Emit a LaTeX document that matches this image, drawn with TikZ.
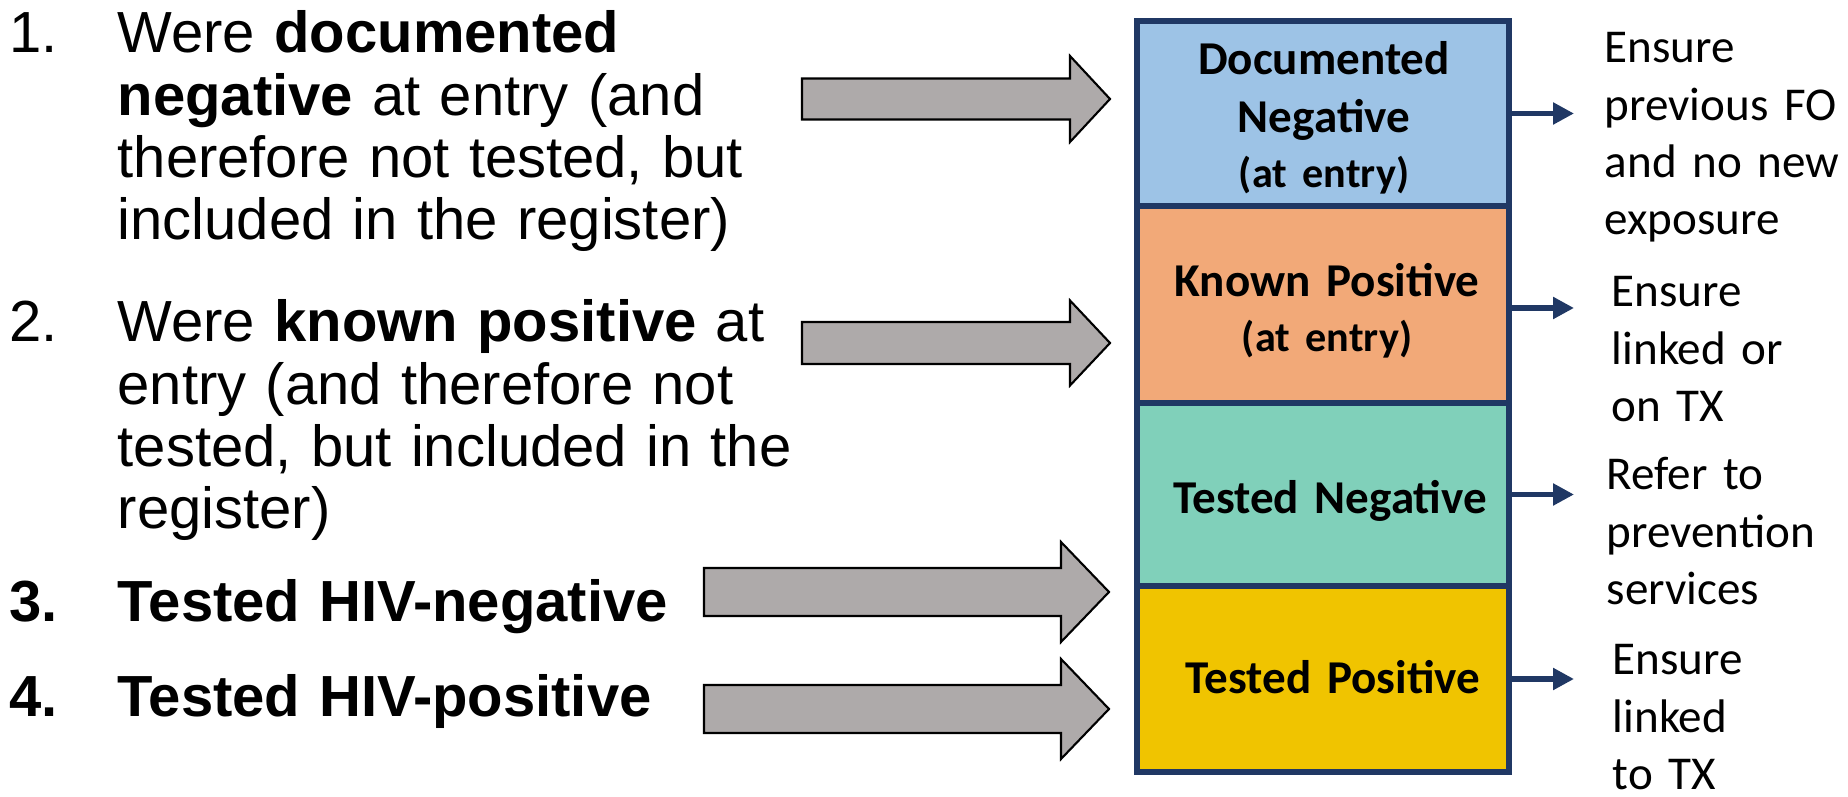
\documentclass[tikz,border=0pt]{standalone}
\usepackage{fontspec}
\setmainfont{Liberation Sans}
\newfontfamily\carlito{Carlito}
\usepackage{tikz}
\usetikzlibrary{positioning, arrows.meta}
\definecolor{marcoNavy}{HTML}{203864}
\definecolor{docNeg}{HTML}{9DC3E6}
\definecolor{knownPos}{HTML}{F2A978}
\definecolor{testNeg}{HTML}{80D0BA}
\definecolor{testPos}{HTML}{F0C400}
\definecolor{flechaGris}{HTML}{AEAAAA}

\begin{document}
\begin{tikzpicture}[
  >={Triangle[length=2.1mm, width=2.1mm]},
  bigarr/.style={fill=flechaGris, draw=black, line width=0.6pt, line join=miter},
  smallarr/.style={->, draw=marcoNavy, line width=1.6pt},
  cell/.style={draw=marcoNavy, line width=1.5pt, minimum width=3.72cm, inner sep=0pt, outer sep=0pt},
  celltxt/.style={anchor=base, inner sep=0pt, text width=3.6cm, align=center,
    font=\carlito\bfseries\fontsize{13.4}{16.5}\selectfont},
  acttxt/.style={anchor=base west, inner sep=0pt, text width=2.6cm, align=left,
    font=\carlito\fontsize{13.4}{16.3}\selectfont},
  itemtxt/.style={anchor=base west, inner sep=0pt, text width=7cm, align=left,
    font=\fontsize{16.5}{17.65}\selectfont},
  numtxt/.style={anchor=base west, inner sep=0pt, font=\fontsize{16.5}{17.65}\selectfont}
]
  \useasboundingbox (0,0) rectangle (18.48,7.97);

  % --- Lista de la izquierda ---
  \node[numtxt] (n1) at (0.09, 7.44) {1.};
  \node[itemtxt] (item1) at (1.17, 7.44)
    {Were \textbf{documented}\\ \textbf{negative} at entry (and\\ therefore not tested, but\\ included in the register)};
  \node[numtxt] (n2) at (0.09, 4.55) {2.};
  \node[itemtxt] (item2) at (1.17, 4.55)
    {Were \textbf{known positive} at\\ entry (and therefore not\\ tested, but included in the\\ register)};
  \node[numtxt, font=\bfseries\fontsize{16.5}{17.65}\selectfont] (n3) at (0.09, 1.75) {3.};
  \node[itemtxt, font=\bfseries\fontsize{16.5}{17.65}\selectfont] (item3) at (1.17, 1.75) {Tested HIV-negative};
  \node[numtxt, font=\bfseries\fontsize{16.5}{17.65}\selectfont] (n4) at (0.09, 0.80) {4.};
  \node[itemtxt, font=\bfseries\fontsize{16.5}{17.65}\selectfont] (item4) at (1.17, 0.80) {Tested HIV-positive};

  % --- Flechas grises ---
  \filldraw[bigarr] (8.02, 7.185) -- (10.70, 7.185) -- (10.70, 7.41) -- (11.10, 6.98)
    -- (10.70, 6.55) -- (10.70, 6.775) -- (8.02, 6.775) -- cycle;
  \filldraw[bigarr] (8.02, 4.75) -- (10.70, 4.75) -- (10.70, 4.965) -- (11.10, 4.54)
    -- (10.70, 4.115) -- (10.70, 4.33) -- (8.02, 4.33) -- cycle;
  \filldraw[bigarr] (7.04, 2.29) -- (10.61, 2.29) -- (10.61, 2.55) -- (11.09, 2.05)
    -- (10.61, 1.55) -- (10.61, 1.81) -- (7.04, 1.81) -- cycle;
  \filldraw[bigarr] (7.04, 1.12) -- (10.61, 1.12) -- (10.61, 1.38) -- (11.09, 0.88)
    -- (10.61, 0.38) -- (10.61, 0.64) -- (7.04, 0.64) -- cycle;

  % --- Columna de casillas ---
  \node[cell, fill=docNeg, minimum height=1.85cm, anchor=north west] (docneg) at (11.37, 7.76) {};
  \node[cell, fill=knownPos, minimum height=1.97cm, below=0pt of docneg] (knownpos) {};
  \node[cell, fill=testNeg, minimum height=1.83cm, below=0pt of knownpos] (testneg) {};
  \node[cell, fill=testPos, minimum height=1.86cm, below=0pt of testneg] (testpos) {};

  \node[celltxt] (docnegtxt) at (13.24, 7.22)
    {Documented\\ Negative\\[-1pt] {\fontsize{12}{14}\selectfont (at entry)}};
  \node[celltxt] (knownpostxt) at (13.27, 5.00)
    {Known Positive\\[-1pt] {\fontsize{12}{14}\selectfont (at entry)}};
  \node[celltxt] (testnegtxt) at (13.30, 2.83) {Tested Negative};
  \node[celltxt] (testpostxt) at (13.33, 1.04) {Tested Positive};

  % --- Flechas a las acciones ---
  \coordinate (tipx) at (15.74, 0);
  \draw[smallarr] (docneg.east) -- (docneg.east -| tipx);
  \draw[smallarr] ([yshift=-0.035cm]knownpos.east) -- ([yshift=-0.035cm]knownpos.east -| tipx);
  \draw[smallarr] (testneg.east) -- (testneg.east -| tipx);
  \draw[smallarr] (testpos.east) -- (testpos.east -| tipx);

  \node[acttxt] (act1) at (16.04, 7.34) {Ensure\\ previous FO\\ and no new\\ exposure};
  \node[acttxt] (act2) at (16.11, 4.90) {Ensure\\ linked or\\ on TX};
  \node[acttxt] (act3) at (16.06, 3.07) {Refer to\\ prevention\\ services};
  \node[acttxt] (act4) at (16.12, 1.22) {Ensure\\ linked\\ to TX};
\end{tikzpicture}
\end{document}
